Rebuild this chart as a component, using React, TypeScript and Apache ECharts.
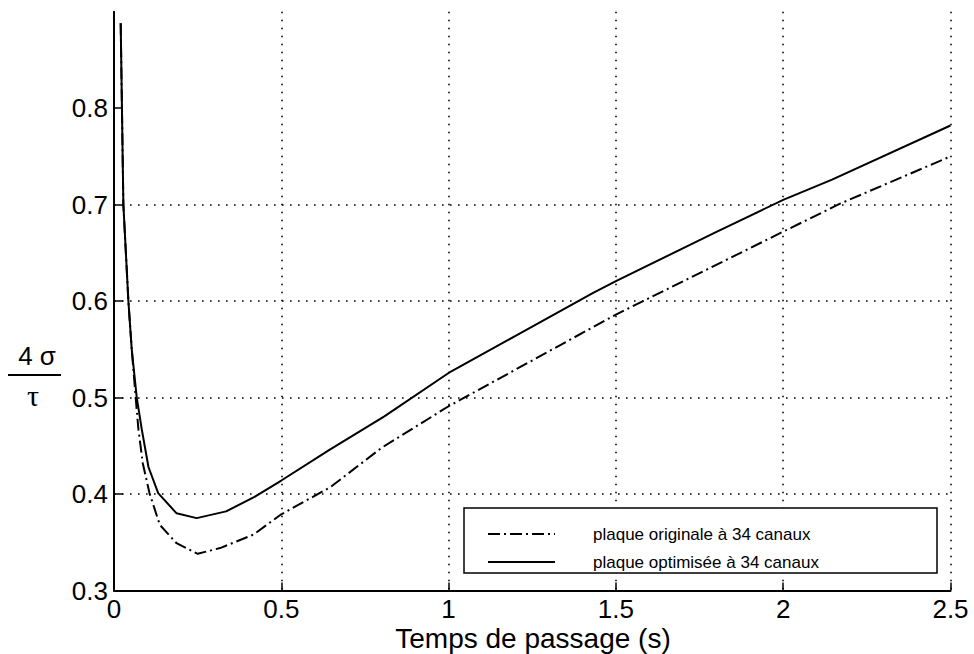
import React, { useEffect, useRef } from "react";
import * as echarts from "echarts";

// Temps de passage (s) and 4σ/τ values
const origTimes = [0.02, 0.028, 0.043, 0.053, 0.066, 0.073, 0.086, 0.106, 0.137, 0.187, 0.25, 0.317, 0.417, 0.5, 0.646, 0.8, 1.0, 1.2, 1.5, 2.0, 2.17, 2.5];
const origValues = [0.888, 0.70, 0.60, 0.55, 0.495, 0.467, 0.432, 0.401, 0.368, 0.349, 0.338, 0.344, 0.358, 0.379, 0.407, 0.448, 0.491, 0.529, 0.586, 0.672, 0.701, 0.75];

const optTimes = [0.02, 0.028, 0.043, 0.053, 0.068, 0.083, 0.103, 0.132, 0.187, 0.247, 0.335, 0.42, 0.5, 0.645, 0.808, 1.0, 1.2, 1.432, 1.5, 1.796, 2.0, 2.146, 2.5];
const optValues = [0.888, 0.70, 0.60, 0.55, 0.50, 0.467, 0.428, 0.401, 0.380, 0.375, 0.382, 0.397, 0.414, 0.446, 0.4805, 0.5255, 0.564, 0.6086, 0.6207, 0.671, 0.705, 0.726, 0.782];

const seriesNames = ["plaque originale à 34 canaux", "plaque optimisée à 34 canaux"];
const yTickValues = [0.3, 0.4, 0.5, 0.6, 0.7, 0.8];
const xAxisName = "Temps de passage (s)";

const zip = (xs: number[], ys: number[]) => xs.map((x, i) => [x, ys[i]]);

export default function App() {
  const ref = useRef<HTMLDivElement>(null);
  useEffect(() => {
    if (!ref.current) return;
    const chart = echarts.init(ref.current, null, { renderer: "svg" });
    const font = "'Liberation Sans', Arial, Helvetica, sans-serif";
    const grid = { left: 114, right: 23.5, top: 11.7, bottom: 63.5 };
    chart.setOption({
      animation: false,
      backgroundColor: "#fff",
      grid,
      xAxis: {
        type: "value",
        min: 0,
        max: 2.5,
        interval: 0.5,
        axisLine: { show: true, onZero: false, lineStyle: { color: "#000", width: 2 } },
        axisTick: { show: true, inside: true, length: 8, lineStyle: { color: "#000", width: 1.5 } },
        axisLabel: { color: "#000", fontSize: 26, fontFamily: font, margin: 5 },
        splitLine: {
          show: true,
          showMinLine: false,
          showMaxLine: true,
          lineStyle: { color: "#000", width: 1.6, type: [1.6, 6.4] },
        },
      },
      yAxis: {
        type: "value",
        min: 0.3,
        max: 0.9,
        interval: 0.1,
        axisLine: { show: true, onZero: false, lineStyle: { color: "#000", width: 2 } },
        axisTick: { show: true, inside: true, length: 9, customValues: yTickValues, lineStyle: { color: "#000", width: 1.5 } },
        axisLabel: {
          color: "#000",
          fontSize: 26,
          fontFamily: font,
          margin: 6,
          customValues: yTickValues,
          formatter: (v: number) => v.toFixed(1),
        },
        splitLine: {
          show: true,
          showMinLine: false,
          showMaxLine: false,
          lineStyle: { color: "#000", width: 1.6, type: [1.6, 6.4] },
        },
      },
      legend: {
        orient: "vertical",
        left: 482,
        top: 519,
        itemWidth: 67,
        itemHeight: 1,
        itemGap: 8,
        selectedMode: false,
        z: 5,
        itemStyle: { opacity: 0 },
        textStyle: { color: "#000", fontSize: 17, fontFamily: font, lineHeight: 20, padding: [0, 0, 0, 33] },
        data: seriesNames,
      },
      graphic: [
        {
          type: "rect",
          z: 3,
          shape: { x: 464, y: 508, width: 473, height: 65 },
          style: { fill: "#fff", stroke: "#000", lineWidth: 1.5 },
        },
        {
          type: "text",
          x: 37,
          y: 356,
          style: { text: "4 σ", fontSize: 26, fontFamily: font, fill: "#000", align: "center", verticalAlign: "middle" },
        },
        {
          type: "line",
          shape: { x1: 8, y1: 375, x2: 61, y2: 375 },
          style: { stroke: "#000", lineWidth: 2 },
        },
        {
          type: "text",
          x: 33,
          y: 395,
          style: { text: "τ", fontSize: 30, fontFamily: "'Liberation Serif', 'DejaVu Serif', serif", fill: "#000", align: "center", verticalAlign: "middle" },
        },
        {
          type: "text",
          x: 533,
          y: 638,
          style: { text: xAxisName, fontSize: 28, fontFamily: font, fill: "#000", align: "center", verticalAlign: "middle" },
        },
      ],
      series: [
        {
          name: seriesNames[0],
          type: "line",
          data: zip(origTimes, origValues),
          showSymbol: false,
          symbol: "none",
          lineStyle: { color: "#000", width: 2, type: [12, 4, 2, 4] },
          itemStyle: { color: "#000" },
        },
        {
          name: seriesNames[1],
          type: "line",
          data: zip(optTimes, optValues),
          showSymbol: false,
          symbol: "none",
          lineStyle: { color: "#000", width: 2, type: "solid" },
          itemStyle: { color: "#000" },
        },
      ],
    });
    return () => chart.dispose();
  }, []);
  return (
    <div
      ref={ref}
      style={{ position: "absolute", left: 0, top: 0, width: 974, height: 654, background: "#fff" }}
    />
  );
}
